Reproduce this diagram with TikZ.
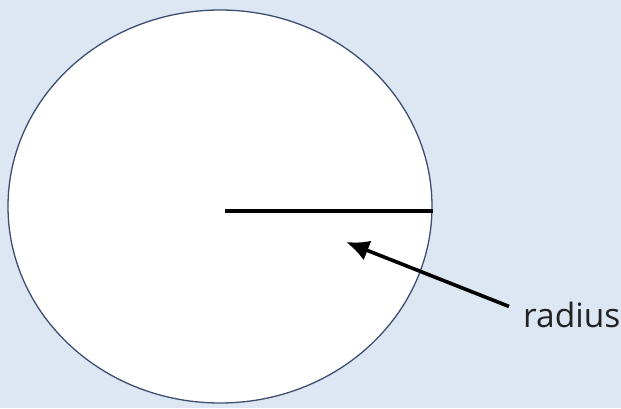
\documentclass[tikz,border=0pt]{standalone}
\usepackage{fontspec}
\setmainfont{Open Sans}
\definecolor{radioFondo}{HTML}{DDE7F3}
\definecolor{radioBorde}{HTML}{3D4E70}
\definecolor{radioTexto}{HTML}{222222}
\usetikzlibrary{
	arrows.meta,
	positioning,
	calc,
	shapes.geometric
}
\tikzset{
	disco/.style={
		ellipse,
		draw=radioBorde,
		fill=white,
		line width=1.3pt,
		inner sep=0pt,
		minimum width=424pt,
		minimum height=393pt
	},
	etiqueta/.style={
		inner sep=2pt,
		text=radioTexto,
		font=\fontsize{33.5}{40}\selectfont
	},
	segmento/.style={
		line width=3.6pt,
		black
	},
	flecha/.style={
		-{Latex[length=23pt,width=21pt]},
		line width=3.6pt,
		black
	}
}
\begin{document}
\begin{tikzpicture}[x=1pt,y=-1pt]
		\fill[radioFondo] (0,0) rectangle (621,408);
		\useasboundingbox (0,0) rectangle (621,408);
		\node[disco] (disco) at (220,206.5) {};
		\coordinate (centro) at (225,211);
		\coordinate (punta) at (346,242);
		\node[etiqueta, anchor=base west] (radio) at (521,327) {radius};
		\draw[segmento] (centro) -- (centro -| disco.east);
		\draw[flecha] ([xshift=-12pt,yshift=8pt]radio.west) -- (punta);
	\end{tikzpicture}
\end{document}
